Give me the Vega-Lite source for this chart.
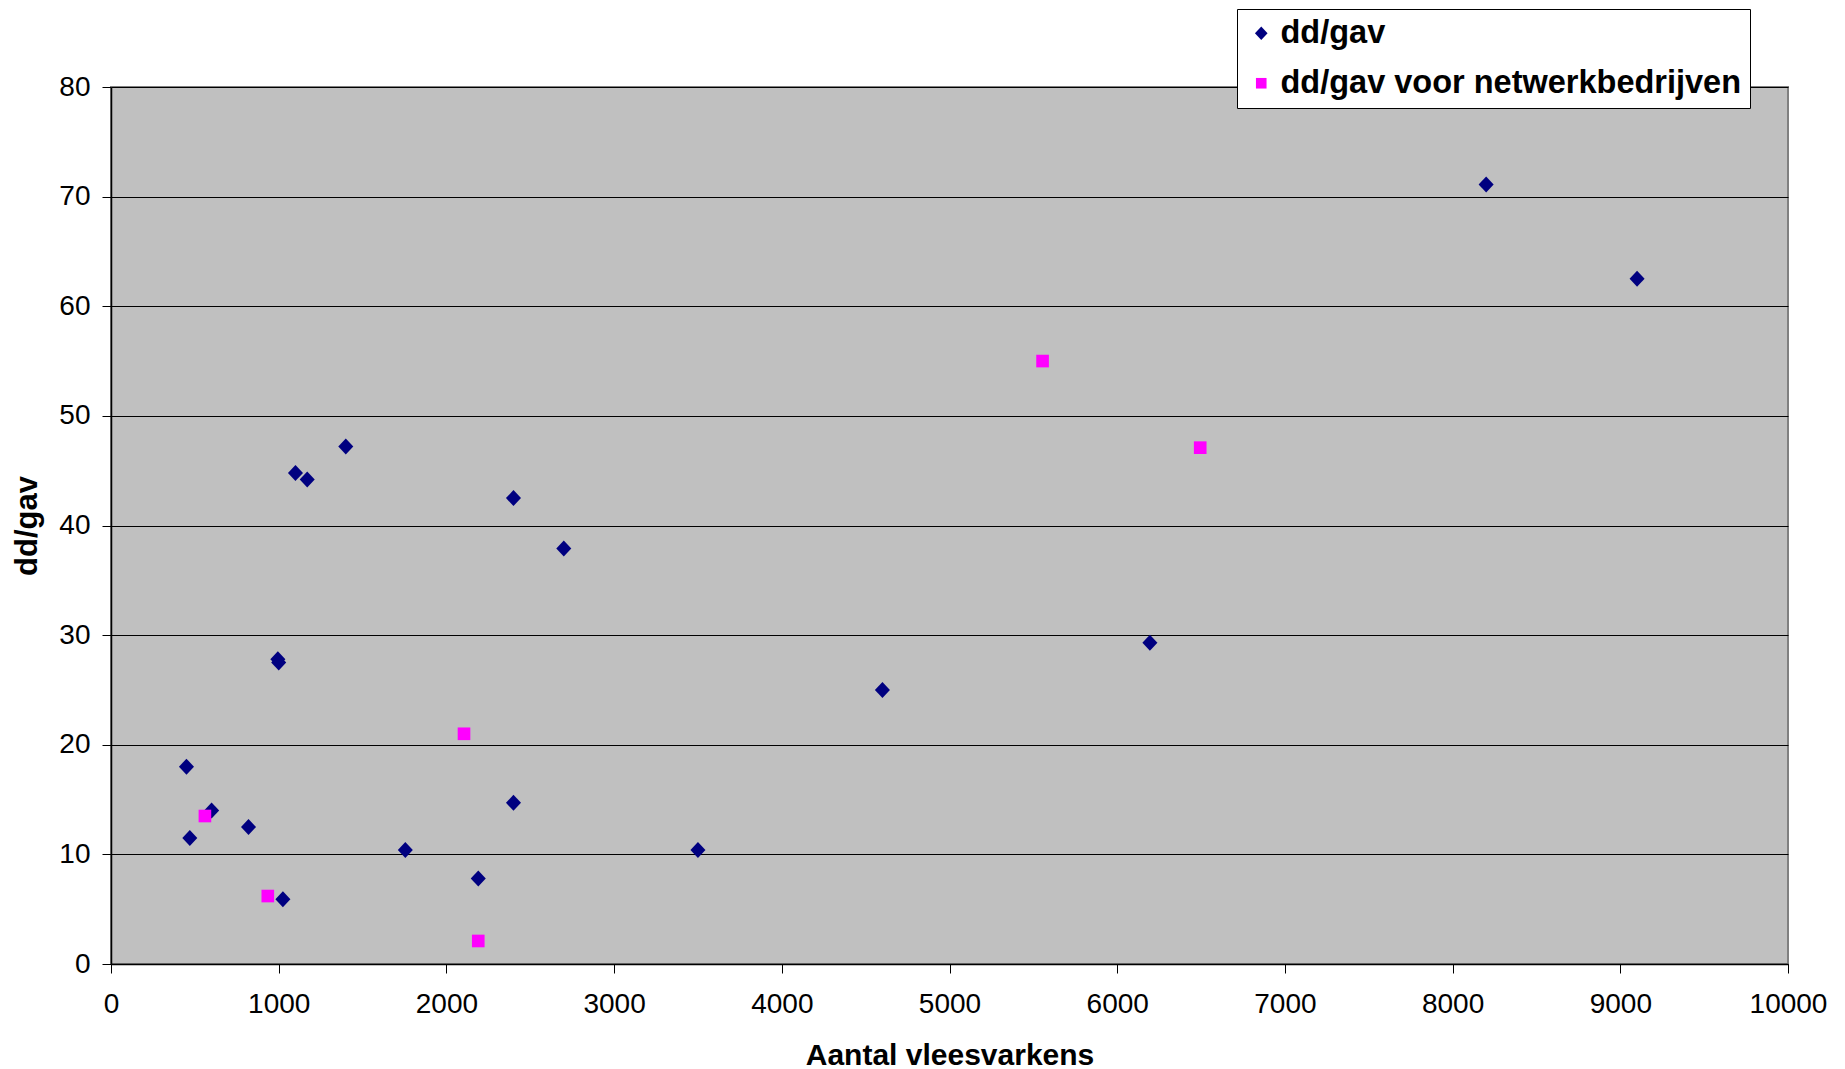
{
  "$schema": "https://vega.github.io/schema/vega-lite/v6.json",
  "width": 1677,
  "height": 877,
  "autosize": {"type": "none"},
  "padding": {"left": 111, "top": 87, "right": 57, "bottom": 105},
  "background": "white",
  "config": {
    "font": "Liberation Sans",
    "view": {"fill": "#C0C0C0", "stroke": "#808080", "strokeWidth": 2}
  },
  "data": {
    "values": [
      {"aantal": 450, "ddgav": 18.0, "serie": "dd/gav"},
      {"aantal": 470, "ddgav": 11.5, "serie": "dd/gav"},
      {"aantal": 600, "ddgav": 14.0, "serie": "dd/gav"},
      {"aantal": 820, "ddgav": 12.5, "serie": "dd/gav"},
      {"aantal": 995, "ddgav": 27.8, "serie": "dd/gav"},
      {"aantal": 1000, "ddgav": 27.5, "serie": "dd/gav"},
      {"aantal": 1025, "ddgav": 5.9, "serie": "dd/gav"},
      {"aantal": 1100, "ddgav": 44.8, "serie": "dd/gav"},
      {"aantal": 1170, "ddgav": 44.2, "serie": "dd/gav"},
      {"aantal": 1400, "ddgav": 47.2, "serie": "dd/gav"},
      {"aantal": 1755, "ddgav": 10.4, "serie": "dd/gav"},
      {"aantal": 2190, "ddgav": 7.8, "serie": "dd/gav"},
      {"aantal": 2400, "ddgav": 42.5, "serie": "dd/gav"},
      {"aantal": 2400, "ddgav": 14.7, "serie": "dd/gav"},
      {"aantal": 2700, "ddgav": 37.9, "serie": "dd/gav"},
      {"aantal": 3500, "ddgav": 10.4, "serie": "dd/gav"},
      {"aantal": 4600, "ddgav": 25.0, "serie": "dd/gav"},
      {"aantal": 6195, "ddgav": 29.3, "serie": "dd/gav"},
      {"aantal": 8200, "ddgav": 71.1, "serie": "dd/gav"},
      {"aantal": 9100, "ddgav": 62.5, "serie": "dd/gav"},
      {"aantal": 560, "ddgav": 13.5, "serie": "dd/gav voor netwerkbedrijven"},
      {"aantal": 935, "ddgav": 6.2, "serie": "dd/gav voor netwerkbedrijven"},
      {"aantal": 2105, "ddgav": 21.0, "serie": "dd/gav voor netwerkbedrijven"},
      {"aantal": 2190, "ddgav": 2.1, "serie": "dd/gav voor netwerkbedrijven"},
      {"aantal": 5555, "ddgav": 55.0, "serie": "dd/gav voor netwerkbedrijven"},
      {"aantal": 6495, "ddgav": 47.1, "serie": "dd/gav voor netwerkbedrijven"}
    ]
  },
  "mark": {"type": "point", "filled": true, "opacity": 1, "size": 256, "strokeWidth": 0},
  "encoding": {
    "x": {
      "field": "aantal",
      "type": "quantitative",
      "scale": {"domain": [0, 10000], "nice": false, "zero": true},
      "axis": {
        "title": "Aantal vleesvarkens",
        "values": [0, 1000, 2000, 3000, 4000, 5000, 6000, 7000, 8000, 9000, 10000],
        "format": "d",
        "grid": false,
        "domainColor": "black",
        "domainWidth": 1.5,
        "tickColor": "black",
        "tickSize": 9,
        "labelFontSize": 28,
        "labelColor": "black",
        "labelFlush": false,
        "labelOverlap": false,
        "labelPadding": 17,
        "titleFontSize": 30,
        "titleFontWeight": "bold",
        "titleColor": "black",
        "titlePadding": 22
      }
    },
    "y": {
      "field": "ddgav",
      "type": "quantitative",
      "scale": {"domain": [0, 80], "nice": false},
      "axis": {
        "title": "dd/gav",
        "values": [0, 10, 20, 30, 40, 50, 60, 70, 80],
        "grid": true,
        "gridColor": "black",
        "gridWidth": 1,
        "gridOpacity": 1,
        "domainColor": "black",
        "domainWidth": 1.5,
        "tickColor": "black",
        "tickSize": 9,
        "labelFontSize": 28,
        "labelColor": "black",
        "labelPadding": 12,
        "titleFontSize": 31,
        "titleFontWeight": "bold",
        "titleColor": "black",
        "titlePadding": 15
      }
    },
    "color": {
      "field": "serie",
      "type": "nominal",
      "scale": {"domain": ["dd/gav", "dd/gav voor netwerkbedrijven"], "range": ["#000080", "#FF00FF"]},
      "legend": {
        "title": null,
        "orient": "none",
        "legendX": 1126,
        "legendY": -78,
        "fillColor": "white",
        "strokeColor": "black",
        "padding": 8,
        "symbolOffset": 0,
        "labelFontSize": 32.5,
        "labelFontWeight": "bold",
        "labelColor": "black",
        "labelOffset": 3,
        "labelLimit": 700,
        "rowPadding": 17,
        "symbolSize": 180,
        "symbolStrokeWidth": 0
      }
    },
    "shape": {
      "field": "serie",
      "type": "nominal",
      "scale": {"domain": ["dd/gav", "dd/gav voor netwerkbedrijven"], "range": ["M-0.94,0L0,-1L0.94,0L0,1Z", "M-0.79,-0.79H0.79V0.79H-0.79Z"]},
      "legend": {"title": null}
    }
  }
}
